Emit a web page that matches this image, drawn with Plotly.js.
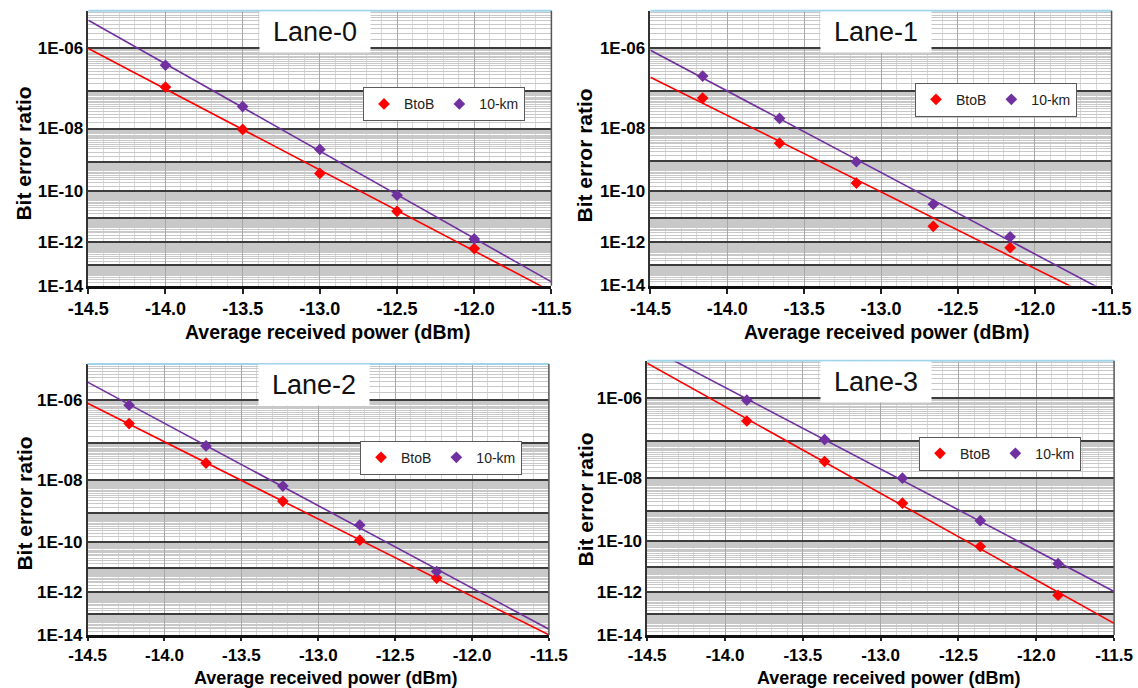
<!DOCTYPE html>
<html><head><meta charset="utf-8">
<script src="https://cdn.plot.ly/plotly-3.0.1.min.js"></script>
<style>html,body{margin:0;padding:0;background:#fff}#chart{width:1138px;height:688px}</style>
</head><body><div id="chart"></div>
<script>
// ---- data (BER values) ----
const laneNames = ['Lane-0', 'Lane-1', 'Lane-2', 'Lane-3'];
const seriesNames = ['BtoB', '10-km'];
const xTitle = 'Average received power (dBm)';
const yTitle = 'Bit error ratio';

const lane0Power = [-14.0, -13.5, -13.0, -12.5, -12.0];
const lane0BtoB  = [1.25e-7, 9.4e-9, 4.1e-10, 1.8e-11, 5.4e-13];
const lane0Km10  = [4.1e-7, 4.0e-8, 2.4e-9, 7.2e-11, 1.4e-12];

const lane1Power = [-14.16, -13.66, -13.16, -12.66, -12.16];
const lane1BtoB  = [6.6e-8, 3.7e-9, 1.9e-10, 4.6e-12, 5.8e-13];
const lane1Km10  = [2.3e-7, 1.9e-8, 9.8e-10, 3.3e-11, 1.7e-12];

const lane2Power = [-14.23, -13.73, -13.23, -12.73, -12.23];
const lane2BtoB  = [3.0e-7, 3.0e-8, 2.3e-9, 1.15e-10, 4.0e-12];
const lane2Km10  = [7.9e-7, 8.5e-8, 6.7e-9, 3.9e-10, 7.4e-12];

const lane3Power = [-13.86, -13.36, -12.86, -12.36, -11.86];
const lane3BtoB  = [3.0e-7, 2.9e-8, 1.8e-9, 6.2e-11, 7.1e-13];
const lane3Km10  = [8.8e-7, 1.07e-7, 1.0e-8, 4.9e-10, 1.4e-11];

const xTickVals = [-14.5, -14.0, -13.5, -13.0, -12.5, -12.0, -11.5];
const xTickText = ['-14.5', '-14.0', '-13.5', '-13.0', '-12.5', '-12.0', '-11.5'];
const berDecades  = [1e-6, 1e-7, 1e-8, 1e-9, 1e-10, 1e-11, 1e-12, 1e-13, 1e-14];
const berTickText = ['1E-06', '', '1E-08', '', '1E-10', '', '1E-12', '', '1E-14'];
const berTop = 5.5e-6;
const powerRange = [-14.5, -11.5];

// ---- helpers ----
const FONT = 'Liberation Sans, Arial, Helvetica, sans-serif';
const COLORS = ['#ff0000', '#7030a0'];
function q(ber) { return -Math.log10(-Math.log10(ber)); }   // BER (double-log) scale

function fit(xs, ys) {
  const t = ys.map(q);
  const n = xs.length;
  const mx = xs.reduce((a, b) => a + b, 0) / n;
  const my = t.reduce((a, b) => a + b, 0) / n;
  let sxy = 0, sxx = 0;
  for (let i = 0; i < n; i++) { sxy += (xs[i] - mx) * (t[i] - my); sxx += (xs[i] - mx) ** 2; }
  const b = sxy / sxx;
  return powerRange.map(x => my + b * (x - mx));
}

const lanes = [
  { x: lane0Power, s: [lane0BtoB, lane0Km10] },
  { x: lane1Power, s: [lane1BtoB, lane1Km10] },
  { x: lane2Power, s: [lane2BtoB, lane2Km10] },
  { x: lane3Power, s: [lane3BtoB, lane3Km10] }
];

// layout geometry (pixels -> paper fractions)
const W = 1138, H = 688;
const px = v => v / W, py = v => 1 - v / H;
const geom = [
  { xd: [88.3, 551.4], yd: [285.7, 10.7], leg: [363, 87.3], yt: [23.6, 154], xt: [327, 332], tf: 18, tl: 5, xf: 19.5 },
  { xd: [650.4, 1111.6], yd: [285.5, 10.7], leg: [915, 82.7], yt: [584.5, 156], xt: [886, 332], tf: 18, tl: 5, xf: 19.5 },
  { xd: [87.6, 548.9], yd: [635, 364], leg: [360, 440.7], yt: [23.6, 504], xt: [325, 677.5], tf: 17, tl: 3, xf: 18 },
  { xd: [647.2, 1114.1], yd: [635, 360.7], leg: [919, 436.7], yt: [584.5, 500], xt: [888, 677.5], tf: 17, tl: 3, xf: 18 }
];

// minor BER grid: mantissas within each decade
const minorVals = [];
berDecades.forEach(d => {
  for (let m = 1.5; m < 10; m += 0.5) {
    const v = m * d;
    if (v <= berTop) minorVals.push(q(v));
  }
});

const traces = [];
const layout = {
  width: W, height: H,
  margin: { l: 0, r: 0, t: 0, b: 0 },
  paper_bgcolor: '#ffffff', plot_bgcolor: '#ffffff',
  font: { family: FONT, color: '#000' },
  showlegend: true,
  shapes: [], annotations: []
};

lanes.forEach((lane, i) => {
  const k = i === 0 ? '' : String(i + 1);
  const xa = 'x' + k, ya = 'y' + k;
  const legName = i === 0 ? 'legend' : 'legend' + (i + 1);

  // fit lines
  lane.s.forEach((ser, j) => {
    traces.push({
      x: powerRange, y: fit(lane.x, ser), xaxis: xa, yaxis: ya,
      mode: 'lines', line: { color: COLORS[j], width: 1.6 },
      showlegend: false, hoverinfo: 'skip'
    });
  });
  // measured points
  lane.s.forEach((ser, j) => {
    traces.push({
      x: lane.x, y: ser.map(q), xaxis: xa, yaxis: ya,
      name: seriesNames[j], legend: legName,
      mode: 'markers', marker: { symbol: 'diamond', size: 9, color: COLORS[j] },
      customdata: ser, hovertemplate: '%{x} dBm, BER %{customdata:.2e}<extra></extra>'
    });
  });

  const g = geom[i];
  layout['xaxis' + k] = {
    domain: [px(g.xd[0]), px(g.xd[1])], anchor: ya, range: powerRange,
    tickmode: 'array', tickvals: xTickVals, ticktext: xTickText,
    tickfont: { size: g.tf, family: FONT, weight: 'bold', color: '#000' },
    ticks: 'outside', ticklen: g.tl, tickwidth: 1.5, tickcolor: '#222',
    showgrid: true, gridcolor: '#a8a8a8', gridwidth: 1,
    minor: { tick0: -14.5, dtick: 0.1, showgrid: true, gridcolor: '#d9d9d9', gridwidth: 1, ticks: '' },
    showline: true, linecolor: '#111', linewidth: 3,
    zeroline: false, automargin: false
  };
  layout['yaxis' + k] = {
    domain: [py(g.yd[0]), py(g.yd[1])], anchor: xa, range: [q(1e-14), q(berTop)],
    tickmode: 'array', tickvals: berDecades.map(q), ticktext: berTickText,
    tickfont: { size: 17, family: FONT, weight: 'bold', color: '#000' },
    ticks: '', showgrid: true, gridcolor: '#3c3c3c', gridwidth: 1.6,
    minor: { tickmode: 'array', tickvals: minorVals, showgrid: true, gridcolor: '#c8c8c8', gridwidth: 1, ticks: '' },
    showline: true, linecolor: '#333', linewidth: 1.5,
    zeroline: false, automargin: false
  };

  layout[legName] = {
    x: px(g.leg[0]), y: py(g.leg[1]), xanchor: 'left', yanchor: 'top',
    orientation: 'h', bgcolor: '#ffffff', bordercolor: '#5a5a5a', borderwidth: 1,
    font: { size: 14, family: FONT, color: '#222' }, itemwidth: 30
  };

  // border accents
  layout.shapes.push({
    type: 'line', xref: xa + ' domain', yref: ya + ' domain',
    x0: 0, x1: 1, y0: 1, y1: 1, line: { color: '#9fd4ea', width: 2 }, layer: 'above'
  });
  layout.shapes.push({
    type: 'line', xref: xa + ' domain', yref: ya + ' domain',
    x0: 1, x1: 1, y0: 0, y1: 1, line: { color: '#555555', width: 1.5 }, layer: 'above'
  });
  // lane title in a white box
  layout.annotations.push({
    text: laneNames[i], xref: xa + ' domain', yref: ya + ' domain',
    x: 0.49, y: 0.921, xanchor: 'center', yanchor: 'middle', showarrow: false,
    width: 110, height: 40, bgcolor: '#ffffff', borderpad: 0,
    font: { size: 27, family: FONT, color: '#111' }
  });
  // axis titles
  layout.annotations.push({
    text: yTitle, xref: 'paper', yref: 'paper', x: px(g.yt[0]), y: py(g.yt[1]),
    xanchor: 'center', yanchor: 'middle', textangle: -90, showarrow: false,
    font: { size: 21, family: FONT, weight: 'bold', color: '#000' }
  });
  layout.annotations.push({
    text: xTitle, xref: 'paper', yref: 'paper', x: px(g.xt[0]), y: py(g.xt[1]),
    xanchor: 'center', yanchor: 'middle', showarrow: false,
    font: { size: g.xf, family: FONT, weight: 'bold', color: '#000' }
  });
});

Plotly.newPlot('chart', traces, layout, { displayModeBar: false, responsive: false });
</script>
</body></html>
